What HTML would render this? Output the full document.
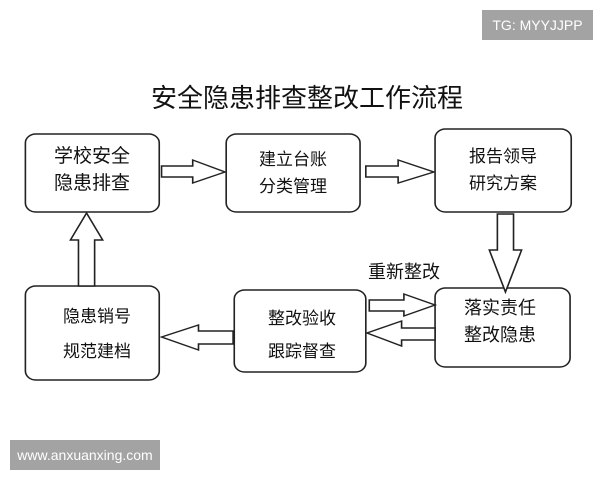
<!DOCTYPE html>
<html><head><meta charset="utf-8"><style>
body{margin:0;width:600px;height:480px;background:#fff;overflow:hidden;position:relative;font-family:"Liberation Sans","Noto Sans CJK SC",sans-serif}
svg{position:absolute;left:0;top:0}
.wm{position:absolute;background:#a3a3a3;color:#fff;font-size:14px;display:flex;align-items:center;justify-content:center}
</style></head><body>
<svg width="600" height="480" viewBox="0 0 600 480">
<g transform="scale(1.154,1)" fill="#fff" stroke="#222" stroke-width="1.4">
<rect x="22" y="134" width="116" height="78" rx="9"/>
<rect x="196" y="134" width="116" height="78" rx="9"/>
<rect x="377" y="129" width="118" height="83" rx="9"/>
<rect x="22" y="286" width="116" height="94" rx="9"/>
<rect x="203" y="290" width="114" height="82" rx="9"/>
<rect x="377" y="288" width="117" height="79" rx="9"/>
<polygon points="140,166 167,166 167,160 195,172 167,183 167,177 140,177"/>
<polygon points="317,166 345,166 345,160 376,172 345,183 345,177 317,177"/>
<polygon points="431,214 445,214 445,250 452,250 438,292 424,250 431,250"/>
<polygon points="68,286 82,286 82,240 89,240 75,213 61,240 68,240"/>
<polygon points="202,331 172,331 172,325 140,337 172,350 172,344 202,344"/>
<polygon points="320,300 350,300 350,294 377,305 350,316 350,311 320,311"/>
<polygon points="377,328 348,328 348,321 318,333 348,346 348,340 377,340"/>
</g>
<g font-family="Liberation Sans,Noto Sans CJK SC,sans-serif" fill="#111" text-anchor="middle">
<text x="307" y="107" font-size="26">安全隐患排查整改工作流程</text>
<text x="92" y="162" font-size="19">学校安全</text>
<text x="92" y="189" font-size="19">隐患排查</text>
<text x="293" y="165" font-size="17">建立台账</text>
<text x="293" y="192" font-size="17">分类管理</text>
<text x="503" y="162" font-size="17">报告领导</text>
<text x="503" y="189" font-size="17">研究方案</text>
<text x="97" y="322" font-size="17">隐患销号</text>
<text x="97" y="357" font-size="17">规范建档</text>
<text x="302" y="324" font-size="17">整改验收</text>
<text x="302" y="357" font-size="17">跟踪督查</text>
<text x="500" y="314" font-size="18">落实责任</text>
<text x="500" y="341" font-size="18">整改隐患</text>
<text x="404" y="278" font-size="18">重新整改</text>
</g>
</svg>
<div class="wm" style="left:482px;top:10px;width:111px;height:30px">TG: MYYJJPP</div>
<div class="wm" style="left:10px;top:440px;width:150px;height:30px">www.anxuanxing.com</div>
</body></html>
